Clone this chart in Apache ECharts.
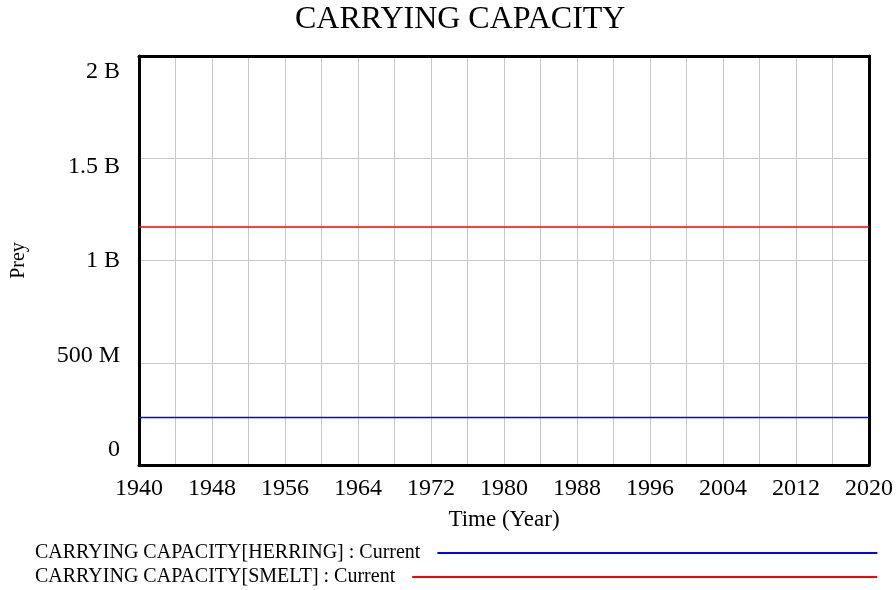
<!DOCTYPE html>
<html>
<head>
<meta charset="utf-8">
<script src="https://cdn.jsdelivr.net/npm/echarts@6/dist/echarts.min.js"></script>
<style>
    html, body { margin: 0; padding: 0; background: #fff; }
    #chart { width: 896px; height: 590px; }
</style>
</head>
<body>
<div id="chart"></div>
<script>
// chart values
var years = [1940, 1960, 1980, 2000, 2020];
var herring = [0.232e9, 0.232e9, 0.232e9, 0.232e9, 0.232e9];
var smelt = [1.164e9, 1.164e9, 1.164e9, 1.164e9, 1.164e9];
var yTickValues = [0, 0.5e9, 1e9, 1.5e9, 2e9];
var yTickLabels = ['0', '500 M', '1 B', '1.5 B', '2 B'];
var seriesNames = ['CARRYING CAPACITY[HERRING] : Current', 'CARRYING CAPACITY[SMELT] : Current'];

var FONT = "'Liberation Serif', 'Times New Roman', serif";

function pairs(xs, ys) {
    return xs.map(function (x, i) { return [x, ys[i]]; });
}

// vensim draws the value labels slightly squeezed toward the middle
var labelPos = yTickValues.map(function (v) { return 0.073e9 + v * 0.9245; });

LoadChart();

function LoadChart() {
    var Chart = echarts.init(document.getElementById('chart'));
    var frame = { show: true, onZero: false, lineStyle: { color: '#000', width: 3 } };
    var gridLine = { show: true, lineStyle: { color: '#c8c8c8', width: 1 } };
    var option = {
        animation: false,
        title: {
            text: 'CARRYING CAPACITY',
            left: 295,
            top: 4,
            padding: 0,
            textStyle: { fontFamily: FONT, fontSize: 32, fontWeight: 'normal', color: '#000' }
        },
        legend: [
            {
                data: [seriesNames[0]],
                left: 35,
                top: 543,
                align: 'right',
                icon: 'rect',
                itemWidth: 440,
                itemHeight: 2,
                padding: 0,
                selectedMode: false,
                textStyle: { fontFamily: FONT, fontSize: 20, color: '#000', padding: [0, 12, 0, 0] }
            },
            {
                data: [seriesNames[1]],
                left: 35,
                top: 567,
                align: 'right',
                icon: 'rect',
                itemWidth: 465,
                itemHeight: 2,
                padding: 0,
                selectedMode: false,
                textStyle: { fontFamily: FONT, fontSize: 20, color: '#000', padding: [0, 12, 0, 0] }
            }
        ],
        grid: {
            left: 139,
            right: 27,
            top: 56,
            bottom: 125
        },
        xAxis: [
            {
                type: 'value',
                min: 1940,
                max: 2020,
                interval: 4,
                name: 'Time (Year)',
                nameLocation: 'middle',
                nameGap: 43,
                nameTextStyle: { fontFamily: FONT, fontSize: 23, color: '#000' },
                axisLine: frame,
                axisTick: { show: false },
                splitLine: gridLine,
                axisLabel: {
                    fontFamily: FONT,
                    fontSize: 24,
                    color: '#000',
                    margin: 12,
                    formatter: function (v) {
                        return (v - 1940) % 8 === 0 ? String(v) : '';
                    }
                }
            },
            {
                // top edge of the box
                type: 'value',
                position: 'top',
                min: 1940,
                max: 2020,
                axisLine: frame,
                axisTick: { show: false },
                axisLabel: { show: false },
                splitLine: { show: false }
            }
        ],
        yAxis: [
            {
                type: 'value',
                min: 0,
                max: 2e9,
                interval: 0.5e9,
                name: 'Prey',
                nameLocation: 'middle',
                nameGap: 110,
                nameRotate: 90,
                nameTextStyle: { fontFamily: FONT, fontSize: 20, color: '#000' },
                axisLine: frame,
                axisTick: { show: false },
                splitLine: gridLine,
                axisLabel: {
                    fontFamily: FONT,
                    fontSize: 24,
                    color: '#000',
                    margin: 19,
                    customValues: labelPos,
                    formatter: function (v) {
                        var k = labelPos.indexOf(v);
                        return k >= 0 ? yTickLabels[k] : '';
                    }
                }
            },
            {
                // right edge of the box
                type: 'value',
                position: 'right',
                min: 0,
                max: 2e9,
                axisLine: frame,
                axisTick: { show: false },
                axisLabel: { show: false },
                splitLine: { show: false }
            }
        ],
        series: [
            {
                name: seriesNames[0],
                type: 'line',
                data: pairs(years, herring),
                symbol: 'none',
                color: '#0000ff',
                lineStyle: { color: '#0000ff', width: 1.5 }
            },
            {
                name: seriesNames[1],
                type: 'line',
                data: pairs(years, smelt),
                symbol: 'none',
                color: '#ff0000',
                lineStyle: { color: '#ff0000', width: 1.5 }
            }
        ]
    };
    Chart.setOption(option);
    window.addEventListener('resize', function () {
        Chart.resize();
    });
}
</script>
</body>
</html>
